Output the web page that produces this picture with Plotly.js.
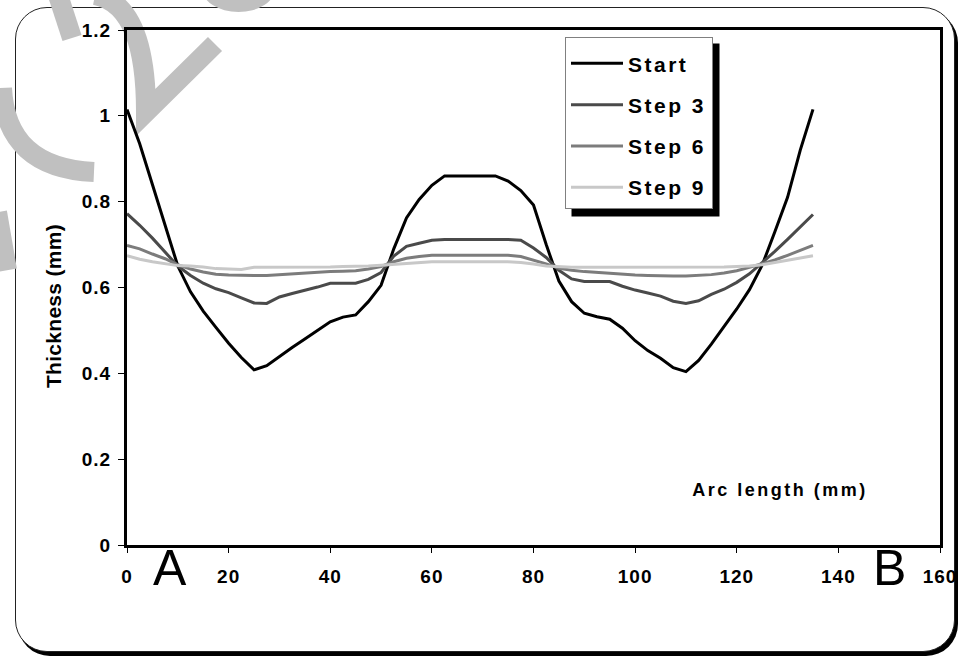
<!DOCTYPE html>
<html>
<head>
<meta charset="utf-8">
<script src="https://cdn.plot.ly/plotly-3.0.1.min.js"></script>
<style>
  html, body { margin: 0; padding: 0; background: #ffffff; }
  #frame {
    position: absolute; left: 15px; top: 7px; width: 940px; height: 645px;
    box-sizing: border-box; border: 1.5px solid #222; border-radius: 32px;
    box-shadow: 3px 4px 0 #000; background: #fff;
  }
  #chart { position: absolute; left: 0; top: 0; width: 959px; height: 657px; }
  .legendtext { letter-spacing: 2.5px; }
  .xtick text, .ytick text { letter-spacing: 1px; }
</style>
</head>
<body>
<div id="frame"></div>
<div id="chart"></div>
<script>
// Arc length (mm)
const arcLength = [0, 2.5, 5, 7.5, 10, 12.5, 15, 17.5, 20, 22.5, 25, 27.5, 30, 32.5, 35, 37.5, 40, 42.5, 45, 47.5,
  50, 52.5, 55, 57.5, 60, 62.5, 65, 67.5, 70, 72.5, 75, 77.5, 80, 82.5, 85, 87.5, 90, 92.5, 95, 97.5,
  100, 102.5, 105, 107.5, 110, 112.5, 115, 117.5, 120, 122.5, 125, 127.5, 130, 132.5, 135];

// Thickness (mm)
const thicknessStart = [1.015, 0.935, 0.84, 0.745, 0.65, 0.59, 0.545, 0.507, 0.47, 0.437, 0.408, 0.418, 0.44, 0.46, 0.48, 0.50, 0.52, 0.531, 0.536, 0.567,
  0.605, 0.69, 0.762, 0.805, 0.838, 0.86, 0.86, 0.86, 0.86, 0.86, 0.848, 0.826, 0.792, 0.70, 0.615, 0.567, 0.54, 0.532, 0.526, 0.505,
  0.476, 0.453, 0.435, 0.413, 0.404, 0.43, 0.468, 0.51, 0.55, 0.595, 0.652, 0.73, 0.81, 0.92, 1.015];

const thicknessStep3 = [0.772, 0.745, 0.715, 0.683, 0.65, 0.628, 0.61, 0.597, 0.588, 0.576, 0.564, 0.563, 0.578, 0.586, 0.593, 0.601, 0.61, 0.61, 0.61, 0.619,
  0.635, 0.673, 0.696, 0.703, 0.71, 0.712, 0.712, 0.712, 0.712, 0.712, 0.712, 0.71, 0.692, 0.67, 0.64, 0.62, 0.614, 0.614, 0.614, 0.603,
  0.594, 0.587, 0.58, 0.568, 0.563, 0.569, 0.584, 0.596, 0.612, 0.632, 0.657, 0.684, 0.712, 0.742, 0.77];

const thicknessStep6 = [0.698, 0.69, 0.678, 0.667, 0.653, 0.643, 0.636, 0.631, 0.629, 0.628, 0.628, 0.628, 0.63, 0.632, 0.634, 0.636, 0.637, 0.638, 0.639, 0.643,
  0.649, 0.66, 0.668, 0.672, 0.675, 0.675, 0.675, 0.675, 0.675, 0.675, 0.675, 0.672, 0.664, 0.655, 0.645, 0.64, 0.637, 0.635, 0.633, 0.63,
  0.629, 0.628, 0.627, 0.627, 0.627, 0.628, 0.63, 0.634, 0.639, 0.647, 0.655, 0.664, 0.675, 0.687, 0.698];

const thicknessStep9 = [0.674, 0.666, 0.66, 0.655, 0.651, 0.65, 0.648, 0.644, 0.643, 0.642, 0.647, 0.647, 0.647, 0.647, 0.647, 0.648, 0.648, 0.649, 0.649, 0.65,
  0.652, 0.654, 0.656, 0.658, 0.66, 0.66, 0.66, 0.66, 0.66, 0.66, 0.66, 0.658, 0.655, 0.65, 0.648, 0.647, 0.647, 0.647, 0.647, 0.647,
  0.647, 0.647, 0.647, 0.647, 0.647, 0.647, 0.647, 0.648, 0.649, 0.65, 0.653, 0.658, 0.663, 0.668, 0.674];

const seriesNames = ['Start', 'Step 3', 'Step 6', 'Step 9'];
const seriesValues = [thicknessStart, thicknessStep3, thicknessStep6, thicknessStep9];
const seriesColors = ['#000000', '#4a4a4a', '#7c7c7c', '#c8c8c8'];

const xTickValues = [0, 20, 40, 60, 80, 100, 120, 140, 160];
const yTickValues = [0, 0.2, 0.4, 0.6, 0.8, 1, 1.2];

const FONT = 'Liberation Sans, Arial, sans-serif';

const traces = seriesNames.map((name, i) => ({
  type: 'scatter', mode: 'lines', name: name,
  x: arcLength, y: seriesValues[i],
  legendgroup: 'g' + i,
  line: { color: seriesColors[i], width: 3 },
  hoverinfo: 'skip'
}));

// plot area in pixels (for decorative overlays only)
const W = 959, H = 657, ML = 127, MR = 19, MT = 30, MB = 112;
const PW = W - ML - MR, PH = H - MT - MB;
const px = (x) => +((x - ML) / PW).toFixed(5);
const py = (y) => +((H - MB - y) / PH).toFixed(5);
function pathPx(cmds) {
  return cmds.map(c => c[0] + ' ' + c.slice(1).map((v, k) => k % 2 === 0 ? px(v) : py(v)).join(' ')).join(' ');
}

const wm = '#c0c0c0';
const shapes = [
  // watermark strokes
  { type: 'path', xref: 'paper', yref: 'paper', layer: 'below', line: { color: wm, width: 20 },
    path: pathPx([['M', 58, -5], ['L', 72, 38]]) },
  { type: 'path', xref: 'paper', yref: 'paper', layer: 'below', line: { color: wm, width: 20 },
    path: pathPx([['M', 95, -5], ['Q', 146, 5, 146, 112], ['L', 215, 44]]) },
  { type: 'path', xref: 'paper', yref: 'paper', layer: 'below', line: { color: wm, width: 20 },
    path: pathPx([['M', 2, 88], ['Q', 6, 168, 94, 172]]) },
  { type: 'path', xref: 'paper', yref: 'paper', layer: 'below', line: { color: wm, width: 18 },
    path: pathPx([['M', -2, 212], ['L', 8, 270]]) },
  { type: 'circle', xref: 'paper', yref: 'paper', layer: 'below', line: { width: 0 }, fillcolor: wm,
    x0: px(202), x1: px(275), y0: py(-35), y1: py(12) }
];

const layout = {
  width: W, height: H,
  margin: { l: ML, r: MR, t: MT, b: MB, pad: 0 },
  paper_bgcolor: 'rgba(0,0,0,0)',
  plot_bgcolor: 'rgba(0,0,0,0)',
  font: { family: FONT, color: '#000', size: 18 },
  showlegend: true,
  legend: {
    x: px(565), y: py(37), xanchor: 'left', yanchor: 'top',
    bgcolor: '#ffffff', bordercolor: '#808080', borderwidth: 1,
    font: { family: FONT, size: 21, weight: 'bold', color: '#000' },
    title: { text: ' ', font: { size: 4 } },
    traceorder: 'grouped', tracegroupgap: 11, itemwidth: 52
  },
  xaxis: {
    range: [0, 160], tickvals: xTickValues, ticks: 'outside', ticklen: 5, tickwidth: 1, tickcolor: '#000',
    showline: true, linecolor: '#000', linewidth: 3, mirror: true, showgrid: false, zeroline: false,
    tickfont: { family: FONT, size: 19, weight: 'bold', color: '#000' },
    ticklabelstandoff: 7, fixedrange: true
  },
  yaxis: {
    range: [0, 1.2], tickvals: yTickValues, ticks: 'outside', ticklen: 6, tickwidth: 1, tickcolor: '#000',
    showline: true, linecolor: '#000', linewidth: 3, mirror: true, showgrid: false, zeroline: false,
    tickfont: { family: FONT, size: 19, weight: 'bold', color: '#000' },
    ticklabelstandoff: 3,
    fixedrange: true
  },
  shapes: shapes,
  annotations: [
    // x-axis title (drawn inside the plot area, as in the original)
    { text: 'Arc length (mm)', xref: 'x', yref: 'y', x: 128.5, y: 0.128, showarrow: false,
      font: { family: FONT, size: 18, weight: 'bold', color: '#000' } },
    // y-axis title
    { text: 'Thickness (mm)', xref: 'paper', yref: 'paper', x: px(54), y: py(306), textangle: -90,
      xanchor: 'center', yanchor: 'middle', showarrow: false,
      font: { family: FONT, size: 21, weight: 'bold', color: '#000' } },
    { text: 'A', xref: 'x', yref: 'paper', x: 8.5, y: py(568), yanchor: 'middle', showarrow: false,
      font: { family: FONT, size: 50, color: '#000' } },
    { text: 'B', xref: 'x', yref: 'paper', x: 150, y: py(568), yanchor: 'middle', showarrow: false,
      font: { family: FONT, size: 50, color: '#000' } }
  ]
};

function spaceTitles(gd) {
  const a = gd.querySelectorAll('.annotation-text');
  if (a.length > 1) { a[0].style.letterSpacing = '2.5px'; a[1].style.letterSpacing = '0.3px'; }
}

Plotly.newPlot('chart', traces, layout, { displayModeBar: false, staticPlot: true }).then(gd => {
  spaceTitles(gd);
  // legend drop shadow, placed from the legend's drawn box
  const bg = gd.querySelector('.legend .bg');
  const root = gd.getBoundingClientRect();
  if (bg) {
    const r = bg.getBoundingClientRect();
    const x0 = r.left - root.left + 6, x1 = r.right - root.left + 7;
    const y0 = r.top - root.top + 6, y1 = r.bottom - root.top + 8;
    const shadow = { type: 'rect', xref: 'paper', yref: 'paper', layer: 'above', line: { width: 0 }, fillcolor: '#000',
      x0: px(x0), x1: px(x1), y0: py(y1), y1: py(y0) };
    Plotly.relayout(gd, { shapes: shapes.concat([shadow]) }).then(() => spaceTitles(gd));
  }
});
</script>
</body>
</html>
